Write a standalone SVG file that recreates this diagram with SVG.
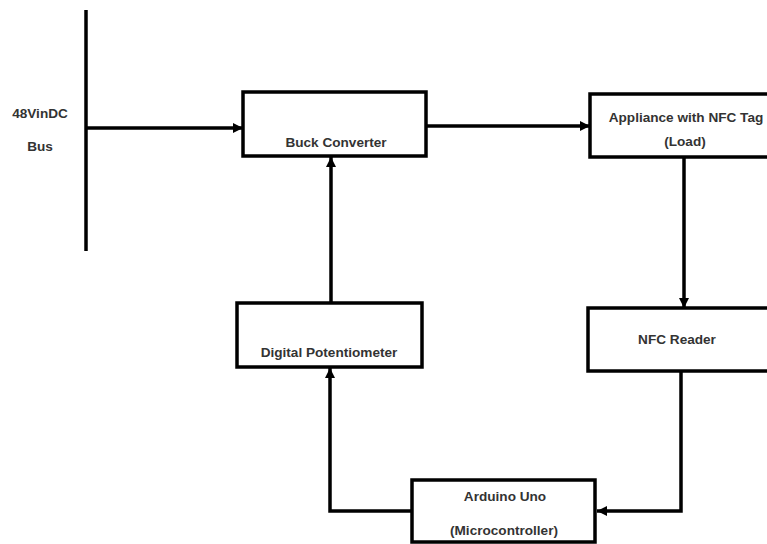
<svg xmlns="http://www.w3.org/2000/svg" width="767" height="544" viewBox="0 0 767 544">
  <defs>
    <marker id="arr" viewBox="0 0 10 10" refX="10" refY="5" markerWidth="10" markerHeight="10" markerUnits="userSpaceOnUse" orient="auto">
      <path d="M0,0 L10,5 L0,10 z" fill="#000"/>
    </marker>
    <style>
      .box { fill: #fff; stroke: #000; stroke-width: 3.5; }
      .ln { fill: none; stroke: #000; stroke-width: 3.5; }
      .t { font-family: "Liberation Sans", Arial, sans-serif; font-weight: bold; font-size: 13.6px; fill: #333; text-anchor: middle; }
    </style>
  </defs>
  <rect width="767" height="544" fill="#fff"/>
  <g id="bus">
    <line class="ln" x1="86" y1="10" x2="86" y2="251"/>
    <text class="t" x="40" y="118">48VinDC</text>
    <text class="t" x="40" y="151">Bus</text>
  </g>
  <g id="buck">
    <rect class="box" x="243" y="92" width="183" height="64"/>
    <text class="t" x="336" y="147">Buck Converter</text>
  </g>
  <g id="appliance">
    <rect class="box" x="590" y="94" width="182" height="63"/>
    <text class="t" x="686" y="122">Appliance with NFC Tag</text>
    <text class="t" x="685" y="146">(Load)</text>
  </g>
  <g id="nfc">
    <rect class="box" x="588" y="308" width="184" height="63"/>
    <text class="t" x="677" y="344">NFC Reader</text>
  </g>
  <g id="arduino">
    <rect class="box" x="412" y="480" width="183" height="62"/>
    <text class="t" x="505" y="501">Arduino Uno</text>
    <text class="t" x="504" y="535">(Microcontroller)</text>
  </g>
  <g id="pot">
    <rect class="box" x="237" y="303" width="185" height="64"/>
    <text class="t" x="329" y="357">Digital Potentiometer</text>
  </g>
  <g id="connectors">
    <line class="ln" x1="86" y1="128" x2="243" y2="128" marker-end="url(#arr)"/>
    <line class="ln" x1="426" y1="126" x2="590" y2="126" marker-end="url(#arr)"/>
    <line class="ln" x1="684" y1="157" x2="684" y2="308" marker-end="url(#arr)"/>
    <polyline class="ln" points="681,371 681,511 597,511" marker-end="url(#arr)"/>
    <polyline class="ln" points="412,511 330,511 330,368" marker-end="url(#arr)"/>
    <line class="ln" x1="331" y1="303" x2="331" y2="157" marker-end="url(#arr)"/>
  </g>
</svg>
